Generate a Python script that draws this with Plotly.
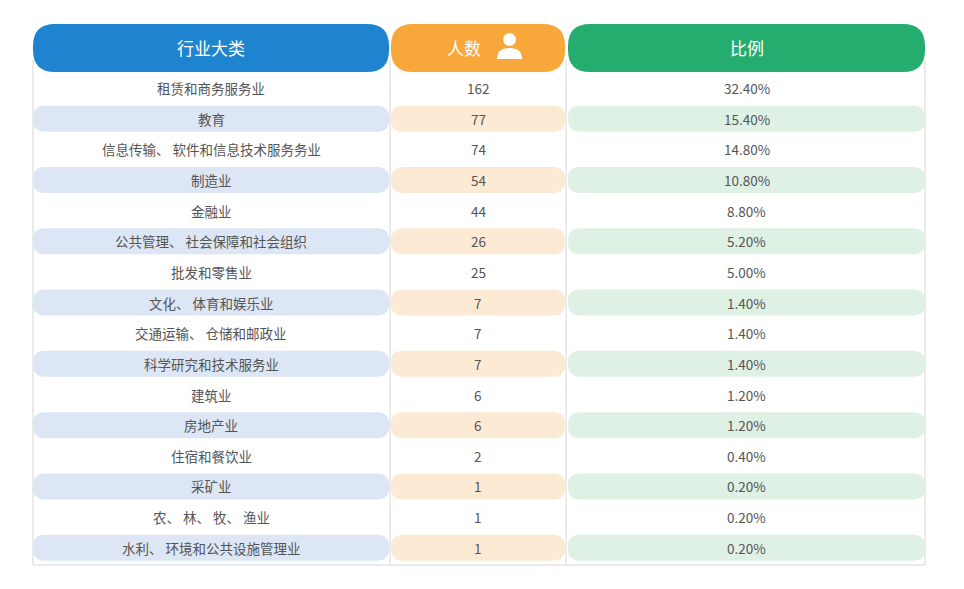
import plotly.graph_objects as go

categories = ["租赁和商务服务业", "教育", "信息传输、 软件和信息技术服务务业", "制造业", "金融业",
              "公共管理、 社会保障和社会组织", "批发和零售业", "文化、 体育和娱乐业", "交通运输、 仓储和邮政业",
              "科学研究和技术服务业", "建筑业", "房地产业", "住宿和餐饮业", "采矿业", "农、 林、 牧、 渔业",
              "水利、 环境和公共设施管理业"]
counts = [162, 77, 74, 54, 44, 26, 25, 7, 7, 7, 6, 6, 2, 1, 1, 1]
percents = ["32.40%", "15.40%", "14.80%", "10.80%", "8.80%", "5.20%", "5.00%", "1.40%", "1.40%",
            "1.40%", "1.20%", "1.20%", "0.40%", "0.20%", "0.20%", "0.20%"]
headers = ["行业大类", "人数", "比例"]

cols = [(33, 389), (391, 565), (568, 925)]
head_colors = ["#1f84cf", "#f8a83b", "#24ad6f"]
stripe_colors = ["#dce6f4", "#fdead4", "#dff0e5"]

def rrect(x0, y0, x1, y1, r):
    return (f"M{x0+r},{y0} L{x1-r},{y0} Q{x1},{y0} {x1},{y0+r} L{x1},{y1-r} Q{x1},{y1} {x1-r},{y1} "
            f"L{x0+r},{y1} Q{x0},{y1} {x0},{y1-r} L{x0},{y0+r} Q{x0},{y0} {x0+r},{y0} Z")

shapes = []
ann = []
line = dict(color="#d6d6d6", width=1)
for x in [33, 390, 566, 925]:
    shapes.append(dict(type="line", x0=x, x1=x, y0=60, y1=565, line=line, layer="below"))
shapes.append(dict(type="line", x0=33, x1=925, y0=565, y1=565, line=line, layer="below"))

y_first, step = 88, 30.65
for i in range(len(categories)):
    yc = y_first + i * step
    if i % 2 == 1:
        for (x0, x1), c in zip(cols, stripe_colors):
            shapes.append(dict(type="path", path=rrect(x0, yc - 13, x1, yc + 13, 12),
                               fillcolor=c, line=dict(width=0)))
    for (x0, x1), t in zip(cols, [categories[i], str(counts[i]), percents[i]]):
        ann.append(dict(x=(x0 + x1) / 2, y=yc, text=t, showarrow=False,
                        font=dict(size=13.5, color="#555555", family="Noto Sans CJK SC")))

for (x0, x1), c, h in zip(cols, head_colors, headers):
    shapes.append(dict(type="path", path=rrect(x0, 24, x1, 72, 22), fillcolor=c, line=dict(width=0)))
    xc = (x0 + x1) / 2 - (14 if h == "人数" else 0)
    ann.append(dict(x=xc, y=47, text=h, showarrow=False,
                    font=dict(size=17, color="white", family="Noto Sans CJK SC")))
shapes.append(dict(type="circle", x0=503, x1=516, y0=33, y1=46, fillcolor="white", line=dict(width=0)))
shapes.append(dict(type="path", path="M497,59 Q497,48 509.5,48 Q522,48 522,59 Z",
                   fillcolor="white", line=dict(width=0)))

fig = go.Figure()
fig.add_trace(go.Scatter(x=[8, 972], y=[8, 597], mode="markers", marker=dict(opacity=0),
                         hoverinfo="skip", showlegend=False))
fig.update_layout(width=964, height=589, margin=dict(l=0, r=0, t=0, b=0),
                  paper_bgcolor="white", plot_bgcolor="white",
                  xaxis=dict(range=[8, 972], visible=False, fixedrange=True),
                  yaxis=dict(range=[597, 8], visible=False, fixedrange=True),
                  shapes=shapes, annotations=ann)
fig.write_html("out.html")
